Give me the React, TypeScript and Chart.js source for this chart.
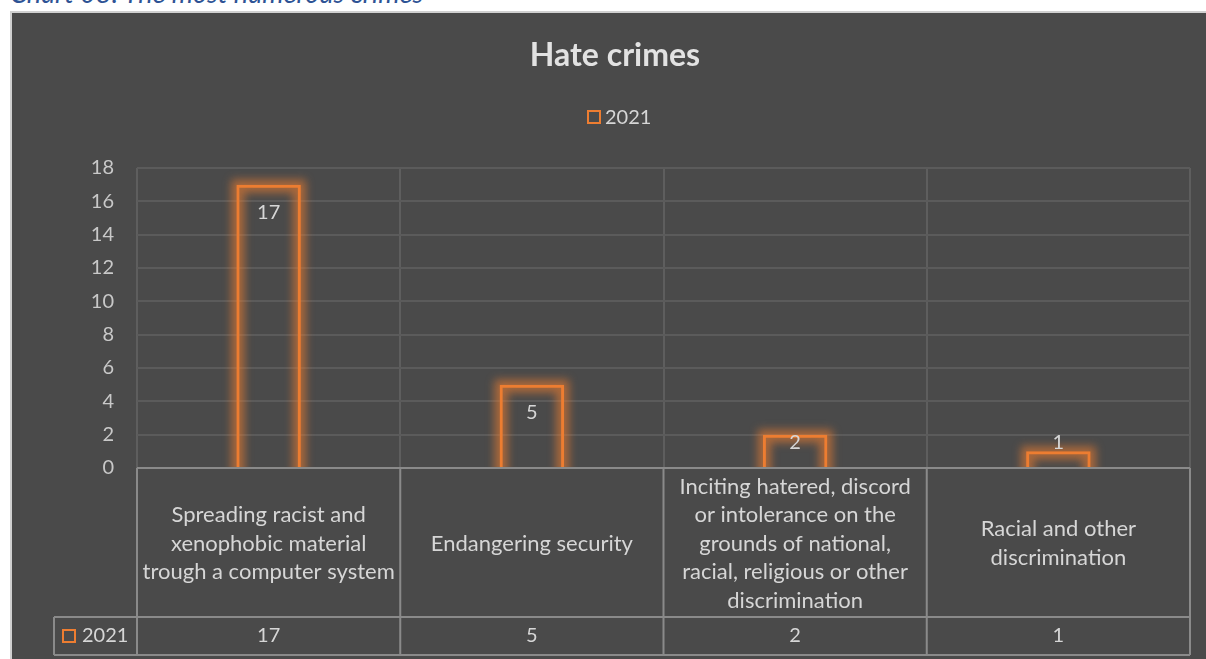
import React, { useEffect, useRef } from "react";
import { Chart, registerables } from "chart.js";

Chart.register(...registerables);

const caption = "Chart 08: The most numerous crimes";
const chartTitle = "Hate crimes";
const seriesName = "2021";
const categoryLines: string[][] = [
  ["Spreading racist and", "xenophobic material", "trough a computer system"],
  ["Endangering security"],
  [
    "Inciting hatered, discord",
    "or intolerance on the",
    "grounds of national,",
    "racial, religious or other",
    "discrimination",
  ],
  ["Racial and other", "discrimination"],
];
const values2021 = [17, 5, 2, 1];
const yMin = 0;
const yMax = 18;
const yStep = 2;

const ORANGE = "#ED7D31";
const TEXT = "#d6d6d6";
const FONT = "Lato, 'Open Sans', sans-serif";

const overlayPlugin = {
  id: "overlay",
  beforeDatasetsDraw(chart: any) {
    const { ctx, chartArea } = chart;
    const meta = chart.getDatasetMeta(0);
    ctx.save();
    ctx.beginPath();
    ctx.rect(chartArea.left, 0, chartArea.right - chartArea.left, chartArea.bottom);
    ctx.clip();
    ctx.filter = "blur(4px)";
    ctx.strokeStyle = "rgba(237,125,49,0.6)";
    ctx.lineWidth = 13;
    meta.data.forEach((bar: any) => {
      const p = bar.getProps(["x", "y", "base", "width"], true);
      ctx.strokeRect(p.x - p.width / 2 + 1.5, p.y + 1.5, p.width - 3, p.base - p.y + 14);
    });
    ctx.restore();
  },
  afterDatasetsDraw(chart: any) {
    const { ctx, chartArea } = chart;
    const meta = chart.getDatasetMeta(0);
    ctx.save();
    ctx.fillStyle = TEXT;
    ctx.font = `20px ${FONT}`;
    ctx.textAlign = "center";
    ctx.textBaseline = "middle";
    meta.data.forEach((bar: any, i: number) => {
      const p = bar.getProps(["x", "y"], true);
      const y = Math.min(p.y + 28, chartArea.bottom - 25);
      ctx.fillText(String(values2021[i]), p.x, y);
    });
    ctx.restore();
  },
  afterDraw(chart: any) {
    const { ctx, chartArea, scales } = chart;
    const xs = scales.x;
    const n = categoryLines.length;
    const left = chartArea.left;
    const right = chartArea.right;
    const cw = (right - left) / n;
    const top = chartArea.bottom;
    const mid = top + 149;
    const bottom = mid + 38;
    const legendLeft = 54;

    ctx.save();
    // title
    ctx.fillStyle = "#e2e2e2";
    ctx.font = `bold 32px ${FONT}`;
    ctx.textAlign = "center";
    ctx.textBaseline = "middle";
    ctx.fillText(chartTitle, 615, 56);

    // legend
    ctx.font = `20px ${FONT}`;
    ctx.textAlign = "left";
    ctx.strokeStyle = ORANGE;
    ctx.lineWidth = 2;
    ctx.strokeRect(588, 111, 12, 12);
    ctx.fillStyle = TEXT;
    ctx.fillText(seriesName, 605, 118);

    // data table lines
    ctx.strokeStyle = "#8a8a8a";
    ctx.lineWidth = 2;
    ctx.beginPath();
    ctx.moveTo(left, top);
    ctx.lineTo(right, top);
    ctx.moveTo(legendLeft, mid);
    ctx.lineTo(right, mid);
    ctx.moveTo(legendLeft, bottom);
    ctx.lineTo(right, bottom);
    ctx.moveTo(legendLeft, mid);
    ctx.lineTo(legendLeft, bottom);
    for (let i = 0; i <= n; i++) {
      const x = left + i * cw;
      ctx.moveTo(x, top);
      ctx.lineTo(x, bottom);
    }
    ctx.stroke();

    // category labels
    ctx.fillStyle = TEXT;
    ctx.textAlign = "center";
    ctx.textBaseline = "middle";
    const lh = 28.5;
    categoryLines.forEach((lines, i) => {
      const cx = xs.getPixelForValue(i);
      const cy = (top + mid) / 2 + 1;
      ctx.font = `22px ${FONT}`;
      lines.forEach((ln, k) => {
        ctx.fillText(ln, cx, cy + (k - (lines.length - 1) / 2) * lh);
      });
      ctx.font = `20px ${FONT}`;
      ctx.fillText(String(values2021[i]), cx, (mid + bottom) / 2);
    });

    // legend key in table
    ctx.strokeStyle = ORANGE;
    ctx.lineWidth = 2;
    ctx.strokeRect(63, 630, 12, 12);
    ctx.font = `20px ${FONT}`;
    ctx.textAlign = "left";
    ctx.fillText(seriesName, 82, (mid + bottom) / 2);
    ctx.restore();
  },
};

export default function App() {
  const ref = useRef<HTMLCanvasElement | null>(null);

  useEffect(() => {
    if (!ref.current) return;
    const chart = new Chart(ref.current, {
      type: "bar",
      data: {
        labels: categoryLines.map((l) => l.join(" ")),
        datasets: [
          {
            label: seriesName,
            data: values2021,
            backgroundColor: "rgba(0,0,0,0)",
            borderColor: ORANGE,
            borderWidth: 3,
            barPercentage: 0.245,
            categoryPercentage: 1,
          },
        ],
      },
      options: {
        animation: false,
        responsive: false,
        devicePixelRatio: 1,
        layout: { padding: { top: 168, bottom: 191, right: 16, left: 77 } },
        plugins: {
          legend: { display: false },
          title: { display: false },
          tooltip: { enabled: false },
        },
        scales: {
          x: {
            offset: true,
            grid: { display: true, offset: true, color: "#5e5e5e", lineWidth: 2, drawTicks: false },
            border: { display: false },
            ticks: { display: false },
            afterFit: (s: any) => {
              s.height = 0;
            },
          },
          y: {
            min: yMin,
            max: yMax,
            ticks: {
              stepSize: yStep,
              color: "#c8c8c8",
              font: { family: FONT, size: 20 },
              padding: 23,
            },
            grid: { color: "#5b5b5b", lineWidth: 2, drawTicks: false },
            border: { display: false },
            afterFit: (s: any) => {
              s.width = 60;
            },
          },
        },
      },
      plugins: [overlayPlugin],
    });
    return () => chart.destroy();
  }, []);

  return (
    <div
      style={{
        position: "fixed",
        left: 0,
        top: 0,
        width: 1206,
        height: 659,
        background: "#ffffff",
        overflow: "hidden",
      }}
    >
      <div
        style={{
          position: "absolute",
          left: 10,
          top: -22,
          fontFamily: FONT,
          fontStyle: "italic",
          fontSize: 27,
          lineHeight: "30px",
          color: "#2E5395",
          whiteSpace: "nowrap",
        }}
      >
        {caption}
      </div>
      <div
        style={{
          position: "absolute",
          left: 10,
          top: 11,
          width: 1300,
          height: 700,
          background: "#4a4a4a",
          borderLeft: "2px solid #d0d0d0",
          borderTop: "2px solid #d0d0d0",
        }}
      />
      <canvas
        ref={ref}
        width={1206}
        height={659}
        style={{ position: "absolute", left: 0, top: 0, width: 1206, height: 659 }}
      />
    </div>
  );
}
